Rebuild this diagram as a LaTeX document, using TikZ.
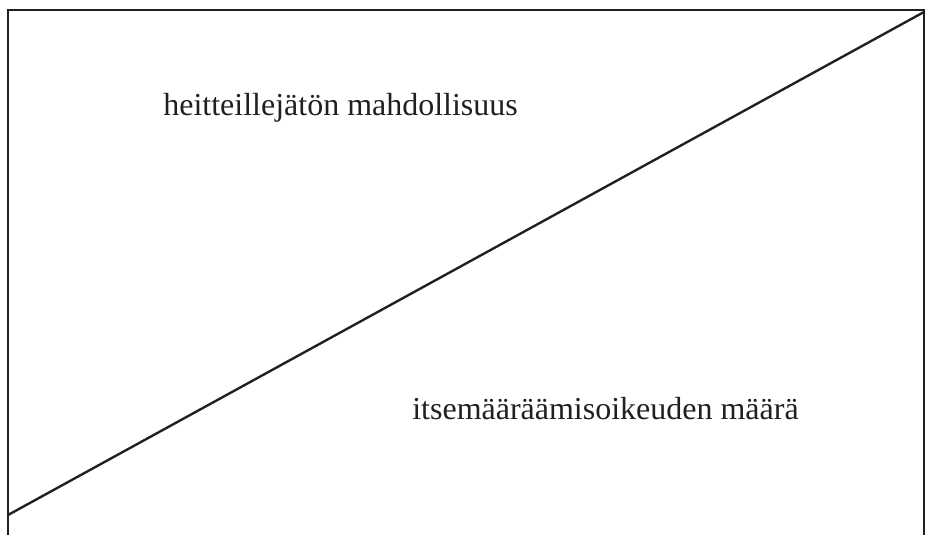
\documentclass[tikz,border=0pt]{standalone}
\usepackage{fontspec}
\setmainfont{Liberation Serif}
\usetikzlibrary{positioning}
\definecolor{ink}{HTML}{231F20}
\tikzset{
  frame line/.style={draw=ink,line width=1.35pt},
  area label/.style={font=\fontsize{18.2}{22}\selectfont,text=ink,anchor=base west,inner sep=0pt},
}

\begin{document}
\begin{tikzpicture}[x=0.2mm,y=-0.2mm]
  \useasboundingbox (0,0) rectangle (930,535);

  \coordinate (bl) at (8,535);
  \coordinate (tl) at (8,10);
  \coordinate (tr) at (924,10);
  \coordinate (br) at (924,535);
  \coordinate (diagstart) at (8,515);
  \coordinate (diagend) at (924,12);

  \draw[frame line] (bl) -- (tl) -- (tr) -- (br);
  \draw[frame line] (diagstart) -- (diagend);

  \node[area label] (upper) at (163,116) {heitteillejätön mahdollisuus};
  \node[area label] (lower) at (412,420) {itsemääräämisoikeuden määrä};

\end{tikzpicture}
\end{document}
